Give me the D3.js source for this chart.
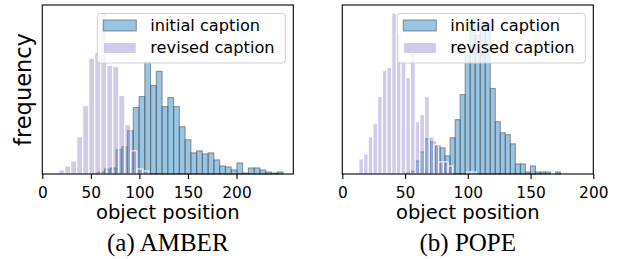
<!DOCTYPE html>
<html>
<head>
<meta charset="utf-8">
<script src="https://cdn.jsdelivr.net/npm/d3@7"></script>
<style>
  body { margin: 0; background: #fff; }
  svg { display: block; }
  text { font-family: "DejaVu Sans", sans-serif; }
</style>
</head>
<body>
<svg id="svgID" width="618" height="259"></svg>
<script>
// histogram bins (bar heights, arbitrary frequency units)
var amberInitialStart = 52.2, amberInitialWidth = 5.93;
var amberInitial = [1, 2, 5, 6, 24, 27, 43, 66, 77, 111, 88, 102, 67, 76, 67, 47, 34, 21, 23, 20, 21, 14, 8, 7, 4, 11, 1, 6, 6, 4, 2, 1, 2];
var amberRevisedStart = 10.7, amberRevisedWidth = 6.19;
var amberRevised = [1, 4, 8, 13, 37, 68, 115, 121, 160, 108, 107, 78, 49, 23, 5, 3];

var popeInitialStart = 49.9, popeInitialWidth = 4.0;
var popeInitial = [1, 3, 13, 22, 35, 32, 28, 26, 18, 36, 54, 79, 118, 150, 138, 150, 150, 85, 52, 41, 39, 30, 10, 10, 2, 8, 2, 2, 2, 0, 2];
var popeRevisedStart = 13.2, popeRevisedWidth = 3.74;
var popeRevised = [15, 20, 37, 50, 77, 103, 106, 160, 140, 113, 96, 120, 52, 59, 77, 37, 29, 12, 12, 8, 0, 0, 0, 2, 2];

var xTicks = [0, 50, 100, 150, 200];
var seriesNames = ["initial caption", "revised caption"];
var captions = ["(a) AMBER", "(b) POPE"];

var initFill = "rgba(50,140,200,0.5)", initEdge = "rgba(80,80,80,0.55)";
var revFill = "rgba(140,130,200,0.42)", revEdge = "rgba(255,255,255,0.85)";

var svg = d3.select("#svgID");

function toBins(start, width, counts) {
    return counts.map(function(c, i) {
        return { x0: start + i * width, x1: start + (i + 1) * width, n: c };
    });
}

function drawPanel(opt) {
    var left = opt.left, right = opt.left + 251, top = 5, bottom = 174;
    var g = svg.append("g");

    var x = d3.scaleLinear().domain(opt.xDomain).range([left, right]);
    var ymax = d3.max(opt.initial.concat(opt.revised), function(d) { return d.n; }) * 1.05;
    var y = d3.scaleLinear().domain([0, ymax]).range([bottom, top]);

    // initial caption bars
    g.append("g").selectAll("rect")
        .data(opt.initial.filter(function(d) { return d.n > 0; }))
        .enter().append("rect")
        .attr("x", function(d) { return x(d.x0); })
        .attr("y", function(d) { return y(d.n); })
        .attr("width", function(d) { return x(d.x1) - x(d.x0); })
        .attr("height", function(d) { return y(0) - y(d.n); })
        .attr("fill", initFill)
        .attr("stroke", initEdge)
        .attr("stroke-width", 1.1);

    // revised caption bars (on top, white edges)
    g.append("g").selectAll("rect")
        .data(opt.revised.filter(function(d) { return d.n > 0; }))
        .enter().append("rect")
        .attr("x", function(d) { return x(d.x0); })
        .attr("y", function(d) { return y(d.n); })
        .attr("width", function(d) { return x(d.x1) - x(d.x0); })
        .attr("height", function(d) { return y(0) - y(d.n); })
        .attr("fill", revFill)
        .attr("stroke", revEdge)
        .attr("stroke-width", 1.2);

    // legend
    var lx = right - 196, ly = 13.5;
    var lg = g.append("g");
    lg.append("rect")
        .attr("x", lx).attr("y", ly)
        .attr("width", 188).attr("height", 49.5)
        .attr("rx", 3)
        .attr("fill", "rgba(255,255,255,0.8)")
        .attr("stroke", "#d0d0d0").attr("stroke-width", 1);
    lg.append("rect")
        .attr("x", lx + 6).attr("y", 20).attr("width", 33).attr("height", 11)
        .attr("fill", initFill)
        .attr("stroke", initEdge).attr("stroke-width", 1.1);
    lg.append("rect")
        .attr("x", lx + 6).attr("y", 42.5).attr("width", 33).attr("height", 11)
        .attr("fill", revFill)
        .attr("stroke", revEdge).attr("stroke-width", 1.2);
    lg.selectAll("text.leg").data(seriesNames).enter().append("text")
        .attr("class", "leg")
        .attr("x", lx + 53)
        .attr("y", function(d, i) { return 30.5 + i * 22.5; })
        .attr("font-size", 16.2)
        .attr("fill", "#000")
        .text(function(d) { return d; });

    // frame
    g.append("rect")
        .attr("x", left).attr("y", top)
        .attr("width", right - left).attr("height", bottom - top)
        .attr("fill", "none").attr("stroke", "#000").attr("stroke-width", 1.1);

    // x axis
    var ax = g.append("g")
        .attr("transform", "translate(0," + bottom + ")")
        .call(d3.axisBottom(x).tickValues(xTicks).tickSize(5).tickPadding(8).tickSizeOuter(0));
    ax.select(".domain").remove();
    ax.selectAll("line").attr("stroke", "#000").attr("stroke-width", 1.1);
    ax.selectAll("text")
        .attr("font-family", "DejaVu Sans, sans-serif")
        .attr("font-size", 15.4)
        .attr("fill", "#000");

    g.append("text")
        .attr("x", (left + right) / 2).attr("y", 219)
        .attr("text-anchor", "middle")
        .attr("font-size", 19.5)
        .attr("fill", "#000")
        .text("object position");

    g.append("text")
        .attr("x", (left + right) / 2).attr("y", 251)
        .attr("text-anchor", "middle")
        .attr("font-size", 25)
        .attr("fill", "#000")
        .style("font-family", "'Liberation Serif', 'Times New Roman', serif")
        .text(opt.caption);

    if (opt.ylabel) {
        g.append("text")
            .attr("transform", "translate(31," + ((top + bottom) / 2) + ") rotate(-90)")
            .attr("text-anchor", "middle")
            .attr("font-size", 22.5)
            .attr("fill", "#000")
            .text("frequency");
    }
}

drawPanel({
    left: 42.3,
    xDomain: [0, 258.5],
    initial: toBins(amberInitialStart, amberInitialWidth, amberInitial),
    revised: toBins(amberRevisedStart, amberRevisedWidth, amberRevised),
    caption: captions[0],
    ylabel: true
});

drawPanel({
    left: 342.3,
    xDomain: [0, 200],
    initial: toBins(popeInitialStart, popeInitialWidth, popeInitial),
    revised: toBins(popeRevisedStart, popeRevisedWidth, popeRevised),
    caption: captions[1],
    ylabel: false
});
</script>
</body>
</html>
